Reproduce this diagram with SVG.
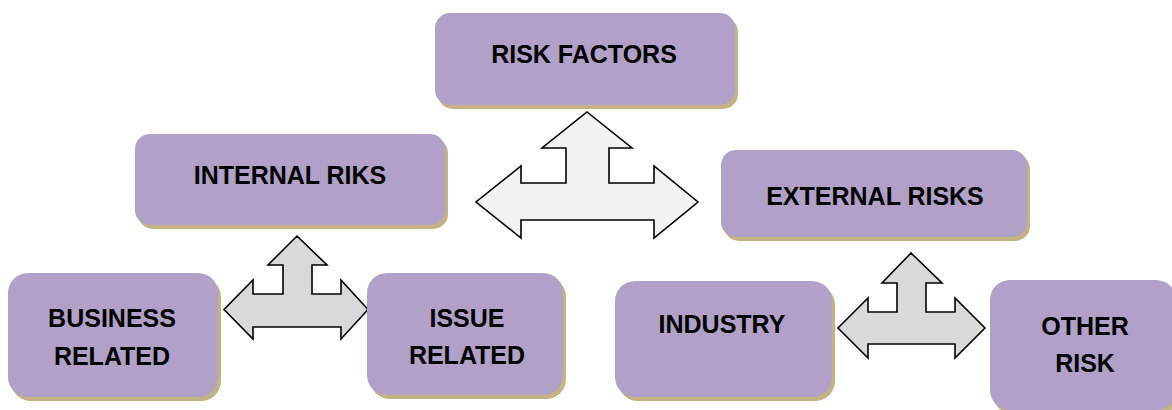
<svg xmlns="http://www.w3.org/2000/svg" width="1172" height="410" viewBox="0 0 1172 410">
<defs>
<style>
.shadow{fill:#c3b282;}
.box{fill:#b1a0c7;}
.lbl{font-family:"Liberation Sans",Arial,sans-serif;font-weight:bold;font-size:25px;fill:#000;text-anchor:middle;}
.arrowBig{fill:#f2f2f2;stroke:#000;stroke-width:1.6;stroke-linejoin:miter;}
.arrowSmall{fill:#d9d9d9;stroke:#000;stroke-width:1.6;stroke-linejoin:miter;}
</style>
</defs>
<rect width="1172" height="410" fill="#ffffff"/>
<g id="connectors">
<path class="arrowBig" d="M587,112 L632,148 L609,148 L609,183 L654,183 L654,166 L698,202 L654,238 L654,220 L521,220 L521,238 L476,202 L521,166 L521,183 L566,183 L566,148 L542,148 Z"/>
<path class="arrowSmall" d="M297,236 L327,265 L312,265 L312,294 L341,294 L341,280 L368,309.5 L341,339 L341,327 L253,327 L253,339 L224,309.5 L253,280 L253,294 L283,294 L283,265 L268,265 Z"/>
<path class="arrowSmall" d="M911,253 L942,283 L926,283 L926,312 L955,312 L955,298 L985,328 L955,358 L955,344 L868,344 L868,358 L838,328 L868,298 L868,312 L897,312 L897,283 L882,283 Z"/>
</g>
<g id="risk-factors">
<rect class="shadow" x="438" y="17" width="300" height="92" rx="15"/>
<rect class="box" x="435" y="13" width="300" height="92" rx="15"/>
<text class="lbl" x="584" y="63">RISK FACTORS</text>
</g>
<g id="internal-riks">
<rect class="shadow" x="138" y="138" width="310" height="91" rx="15"/>
<rect class="box" x="135" y="134" width="310" height="91" rx="15"/>
<text class="lbl" x="290" y="184">INTERNAL RIKS</text>
</g>
<g id="external-risks">
<rect class="shadow" x="724" y="154" width="306" height="87" rx="15"/>
<rect class="box" x="721" y="150" width="306" height="87" rx="15"/>
<text class="lbl" x="875" y="205">EXTERNAL RISKS</text>
</g>
<g id="business-related">
<rect class="shadow" x="11" y="277" width="210" height="124" rx="20"/>
<rect class="box" x="8" y="273" width="210" height="124" rx="20"/>
<text class="lbl" x="112" y="327">BUSINESS</text>
<text class="lbl" x="112" y="365">RELATED</text>
</g>
<g id="issue-related">
<rect class="shadow" x="370" y="277" width="196" height="122" rx="20"/>
<rect class="box" x="367" y="273" width="196" height="122" rx="20"/>
<text class="lbl" x="467" y="327">ISSUE</text>
<text class="lbl" x="467" y="364">RELATED</text>
</g>
<g id="industry">
<rect class="shadow" x="618" y="285" width="217" height="116" rx="20"/>
<rect class="box" x="615" y="281" width="217" height="116" rx="20"/>
<text class="lbl" x="722" y="333">INDUSTRY</text>
</g>
<g id="other-risk">
<rect class="shadow" x="993" y="284" width="186" height="130" rx="20"/>
<rect class="box" x="990" y="280" width="186" height="130" rx="20"/>
<text class="lbl" x="1085" y="335">OTHER</text>
<text class="lbl" x="1085" y="372">RISK</text>
</g>
</svg>
